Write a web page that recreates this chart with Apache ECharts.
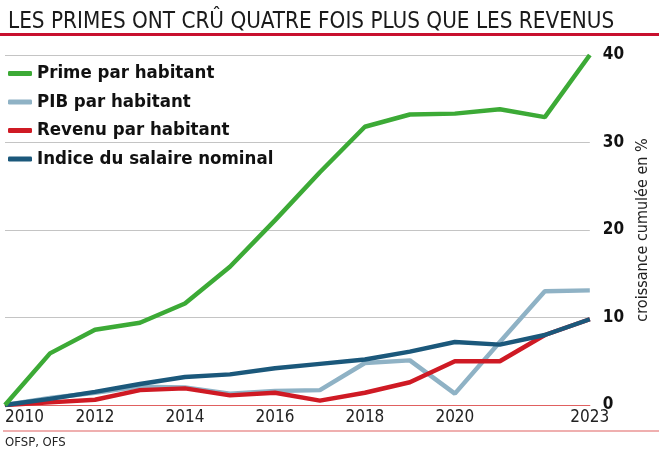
<!DOCTYPE html>
<html>
<head>
<meta charset="utf-8">
<script src="https://cdn.jsdelivr.net/npm/echarts@6/dist/echarts.min.js"></script>
<style>html,body{margin:0;padding:0;background:#fff;}#c{width:659px;height:459px;}</style>
</head>
<body>
<div id="c"></div>
<script>
const years = ['2010','2011','2012','2013','2014','2015','2016','2017','2018','2019','2020','2021','2022','2023'];
const shownYears = ['2010','2012','2014','2016','2018','2020','2023'];
const prime   = [0, 5.9, 8.6, 9.4, 11.6, 15.8, 21.1, 26.6, 31.8, 33.2, 33.3, 33.8, 32.9, 40.0];
const pib     = [0, 0.8, 1.4, 2.1, 2.0, 1.3, 1.6, 1.7, 4.8, 5.1, 1.3, 7.2, 13.0, 13.1];
const revenu  = [0, 0.3, 0.6, 1.7, 1.9, 1.1, 1.4, 0.5, 1.4, 2.6, 5.0, 5.0, 8.0, 9.8];
const salaire = [0, 0.7, 1.5, 2.4, 3.2, 3.5, 4.2, 4.7, 5.2, 6.1, 7.2, 6.9, 8.0, 9.8];
const yTicks = { min: 0, max: 40, interval: 10 };

const FONT = '"DejaVu Sans Condensed", "Liberation Sans Narrow", "DejaVu Sans", sans-serif';
const C_GREEN = '#3caa36', C_PIB = '#8fb2c5', C_RED = '#cf1a24', C_BLUE = '#1b587b';

const chart = echarts.init(document.getElementById('c'));
chart.setOption({
  backgroundColor: '#fff',
  animation: false,
  textStyle: { fontFamily: FONT },
  title: {
    text: 'LES PRIMES ONT CRÛ QUATRE FOIS PLUS QUE LES REVENUS',
    left: 3, top: 6,
    textStyle: { fontFamily: FONT, fontSize: 22.3, fontWeight: 'normal', color: '#1a1a1a' }
  },
  graphic: [
    { type: 'rect', shape: { x: 0, y: 33, width: 659, height: 3 }, style: { fill: '#c8102e' } },
    { type: 'rect', shape: { x: 3, y: 430.5, width: 656, height: 1 }, style: { fill: '#e06060' } },
    { type: 'text', left: 5, top: 436, style: { text: 'OFSP, OFS', font: '13px ' + FONT, fill: '#222' } }
  ],
  legend: {
    orient: 'vertical', left: 3, top: 59,
    itemWidth: 24, itemHeight: 5, itemGap: 9.5,
    icon: 'roundRect',
    data: ['Prime par habitant', 'PIB par habitant', 'Revenu par habitant', 'Indice du salaire nominal'],
    textStyle: { fontFamily: FONT, fontSize: 18.5, fontWeight: 'bold', color: '#111' }
  },
  grid: { left: 5, right: 66, top: 55, bottom: 54, containLabel: false },
  xAxis: {
    type: 'category', data: years, boundaryGap: false,
    axisLine: { lineStyle: { color: '#e06060', width: 1.2 } },
    axisTick: { show: false },
    axisLabel: {
      interval: (i, v) => shownYears.includes(v),
      alignMinLabel: 'left',
      fontFamily: FONT, fontSize: 17, color: '#222', margin: 4
    }
  },
  yAxis: {
    type: 'value', position: 'right', min: yTicks.min, max: yTicks.max, interval: yTicks.interval,
    name: 'croissance cumulée en %', nameLocation: 'middle', nameRotate: 90, nameGap: 44,
    nameTextStyle: { fontFamily: FONT, fontSize: 16, color: '#222' },
    axisLine: { show: false }, axisTick: { show: false },
    splitLine: { lineStyle: { color: '#c4c4c4', width: 1.2 } },
    axisLabel: { fontFamily: FONT, fontSize: 17, fontWeight: 'bold', color: '#111', margin: 13 }
  },
  series: [
    { name: 'PIB par habitant', type: 'line', data: pib, symbol: 'none', lineStyle: { color: C_PIB, width: 4.5 }, itemStyle: { color: C_PIB } },
    { name: 'Revenu par habitant', type: 'line', data: revenu, symbol: 'none', lineStyle: { color: C_RED, width: 4.5 }, itemStyle: { color: C_RED } },
    { name: 'Indice du salaire nominal', type: 'line', data: salaire, symbol: 'none', lineStyle: { color: C_BLUE, width: 4.5 }, itemStyle: { color: C_BLUE } },
    { name: 'Prime par habitant', type: 'line', data: prime, symbol: 'none', lineStyle: { color: C_GREEN, width: 4.5 }, itemStyle: { color: C_GREEN } }
  ]
});
</script>
</body>
</html>
